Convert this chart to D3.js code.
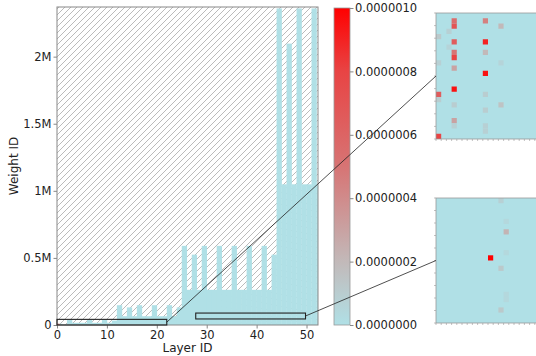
<!DOCTYPE html>
<html>
<head>
<meta charset="utf-8">
<script src="https://cdn.jsdelivr.net/npm/d3@7"></script>
<style>
  body { margin: 0; background: #fff; }
  text { font-family: "DejaVu Sans", sans-serif; fill: #222; }
</style>
</head>
<body>
<div id="chart"></div>
<script>
(function () {
"use strict";

// Number of weights per layer
var weightCounts = [
  9408, 4096, 36864, 16384, 16384, 16384, 36864, 16384, 16384, 36864,
  16384, 32768, 147456, 65536, 131072, 65536, 147456, 65536, 65536, 147456,
  65536, 65536, 147456, 65536, 131072, 589824, 262144, 524288, 262144, 589824,
  262144, 262144, 589824, 262144, 262144, 589824, 262144, 262144, 589824, 262144,
  262144, 589824, 262144, 524288, 2359296, 1048576, 2097152, 1048576, 2359296, 1048576,
  1048576, 2359296, 1048576
];

var xTicks = [0, 10, 20, 30, 40, 50];
var yTicks = [0, 500000, 1000000, 1500000, 2000000];
var cbarTicks = [0, 2e-7, 4e-7, 6e-7, 8e-7, 1e-6];

// hot spots in the main image: [layer, weight from, weight to, value]
var mainHot = [
  [0, 0, 9000, 8e-7]
];

// zoom boxes: [layer from, layer to, weight from, weight to]
var zoomBoxes = [
  [0, 22, 0, 42000],
  [27.8, 49.8, 45000, 89000]
];

// inset cells: [column, row, value]
var inset1Cells = [
  [0, 4, 1.2e-7], [0, 9, 0.8e-7], [0, 15, 6.5e-7], [0, 16, 1.0e-7], [0, 23, 8e-7],
  [2, 3, 0.8e-7], [2, 6, 0.6e-7],
  [3, 1, 5.5e-7], [3, 2, 7e-7], [3, 5, 6.5e-7], [3, 7, 5e-7], [3, 8, 8e-7],
  [3, 10, 3e-7], [3, 14, 9.5e-7], [3, 17, 1e-7], [3, 20, 3e-7], [3, 21, 0.8e-7],
  [9, 1, 4.5e-7], [9, 5, 9e-7], [9, 7, 2e-7], [9, 11, 9.5e-7], [9, 15, 1e-7],
  [9, 18, 1e-7], [9, 21, 0.8e-7], [9, 22, 0.8e-7],
  [12, 2, 2e-7], [12, 9, 0.6e-7], [12, 17, 1.5e-7]
];
var inset2Cells = [
  [10, 11, 10e-7], [13, 6, 2.2e-7], [12, 0, 0.8e-7], [12, 13, 1.2e-7],
  [12, 21, 1.2e-7], [13, 4, 0.4e-7], [13, 10, 0.4e-7], [13, 18, 0.4e-7], [13, 19, 0.4e-7]
];

var fullWidth = 536, fullHeight = 356;

var svg = d3.select("#chart").append("svg")
  .attr("width", fullWidth)
  .attr("height", fullHeight)
  .attr("viewBox", "0 0 " + fullWidth + " " + fullHeight);

var defs = svg.append("defs");

// Hatch for the empty part of the matrix
defs.append("pattern")
    .attr("id", "hatch")
    .attr("patternUnits", "userSpaceOnUse")
    .attr("width", 6)
    .attr("height", 6)
  .append("path")
    .attr("d", "M-1,1 l2,-2 M0,6 l6,-6 M5,7 l2,-2")
    .style("stroke", "#aaa")
    .style("stroke-width", 0.8);

var cmap = d3.scaleLinear()
  .domain([0, 0.2, 0.5, 0.8, 1])
  .range(["#b0e0e6", "#c2b9b9", "#d77474", "#e84444", "#ff0000"])
  .clamp(true);
var vMax = 1e-6;
function color(v) { return cmap(v / vMax); }

var grad = defs.append("linearGradient")
  .attr("id", "cbar-grad")
  .attr("x1", 0).attr("y1", 1).attr("x2", 0).attr("y2", 0);
grad.selectAll("stop")
  .data(cmap.domain())
  .enter().append("stop")
    .attr("offset", function(d) { return d; })
    .attr("stop-color", function(d) { return cmap(d); });

// Main axes
var plot = { left: 57, right: 318, top: 7, bottom: 325 };

var xScale = d3.scaleLinear()
  .domain([0, 52.3])
  .range([plot.left, plot.right]);

var yScale = d3.scaleLinear()
  .domain([0, 2370000])
  .range([plot.bottom, plot.top]);

defs.append("clipPath").attr("id", "main-clip")
  .append("rect")
    .attr("x", plot.left).attr("y", plot.top)
    .attr("width", plot.right - plot.left)
    .attr("height", plot.bottom - plot.top);

var mainGroup = svg.append("g").attr("clip-path", "url(#main-clip)");

mainGroup.append("rect")
  .attr("x", plot.left).attr("y", plot.top)
  .attr("width", plot.right - plot.left)
  .attr("height", plot.bottom - plot.top)
  .style("fill", "#fff");

mainGroup.append("rect")
  .attr("x", plot.left).attr("y", plot.top)
  .attr("width", plot.right - plot.left)
  .attr("height", plot.bottom - plot.top)
  .style("fill", "url(#hatch)");

// Layer columns
mainGroup.selectAll(".layer")
  .data(weightCounts)
  .enter().append("rect")
    .attr("class", "layer")
    .attr("x", function(d, i) { return xScale(i); })
    .attr("width", function(d, i) { return xScale(i + 1) - xScale(i) + 0.3; })
    .attr("y", function(d) { return yScale(d); })
    .attr("height", function(d) { return yScale(0) - yScale(d); })
    .style("fill", color(0));

mainGroup.selectAll(".hot")
  .data(mainHot)
  .enter().append("rect")
    .attr("class", "hot")
    .attr("x", function(d) { return xScale(d[0]); })
    .attr("width", function(d) { return xScale(d[0] + 0.5) - xScale(d[0]); })
    .attr("y", function(d) { return yScale(d[2]); })
    .attr("height", function(d) { return yScale(d[1]) - yScale(d[2]); })
    .style("fill", function(d) { return color(d[3]); });

// Frame
svg.append("rect")
  .attr("x", plot.left).attr("y", plot.top)
  .attr("width", plot.right - plot.left)
  .attr("height", plot.bottom - plot.top)
  .style("fill", "none")
  .style("stroke", "#888")
  .style("stroke-width", 1);

// Axes
function fmtWeight(v) { return v === 0 ? "0" : (v / 1e6) + "M"; }

var xAxis = svg.append("g")
  .attr("transform", "translate(0," + plot.bottom + ")")
  .call(d3.axisBottom(xScale).tickValues(xTicks).tickSize(3.5).tickPadding(2));
var yAxis = svg.append("g")
  .attr("transform", "translate(" + plot.left + ",0)")
  .call(d3.axisLeft(yScale).tickValues(yTicks).tickFormat(fmtWeight).tickSize(3.5).tickPadding(2));

[xAxis, yAxis].forEach(function(ax) {
  ax.select(".domain").remove();
  ax.selectAll("line").style("stroke", "#888");
  ax.selectAll("text")
    .style("font-family", "'DejaVu Sans', sans-serif")
    .style("font-size", "11.5px")
    .style("fill", "#222");
});

svg.append("text")
  .attr("x", (plot.left + plot.right) / 2)
  .attr("y", 352)
  .style("text-anchor", "middle")
  .style("font-size", "12px")
  .text("Layer ID");

svg.append("text")
  .attr("transform", "translate(18," + (plot.top + plot.bottom) / 2 + ") rotate(-90)")
  .style("text-anchor", "middle")
  .style("font-size", "12px")
  .text("Weight ID");

// Colorbar
var cbar = { left: 334, right: 350, top: 8, bottom: 325 };
var cScale = d3.scaleLinear()
  .domain([0, vMax])
  .range([cbar.bottom, cbar.top]);

svg.append("rect")
  .attr("x", cbar.left).attr("y", cbar.top)
  .attr("width", cbar.right - cbar.left)
  .attr("height", cbar.bottom - cbar.top)
  .style("fill", "url(#cbar-grad)")
  .style("stroke", "#999")
  .style("stroke-width", 0.8);

var cAxis = svg.append("g")
  .attr("transform", "translate(" + cbar.right + ",0)")
  .call(d3.axisRight(cScale).tickValues(cbarTicks)
    .tickFormat(function(d) { return d.toFixed(7); })
    .tickSize(3.5).tickPadding(1.5));
cAxis.select(".domain").remove();
cAxis.selectAll("line").style("stroke", "#888");
cAxis.selectAll("text")
  .style("font-family", "'DejaVu Sans', sans-serif")
  .style("font-size", "11.5px")
  .style("fill", "#222");

// Insets
function drawInset(cells, top, bottom, id) {
  var ix = d3.scaleLinear().domain([0, 20]).range([436, 540]);
  var iy = d3.scaleLinear().domain([0, 24]).range([top, bottom]);
  var g = svg.append("g").attr("id", id);

  g.append("rect")
    .attr("x", ix(0)).attr("y", iy(0))
    .attr("width", ix(20) - ix(0))
    .attr("height", iy(24) - iy(0))
    .style("fill", color(0));

  g.selectAll(".cell")
    .data(cells)
    .enter().append("rect")
      .attr("class", "cell")
      .attr("x", function(d) { return ix(d[0]); })
      .attr("y", function(d) { return iy(d[1]); })
      .attr("width", ix(1) - ix(0))
      .attr("height", iy(1) - iy(0))
      .style("fill", function(d) { return color(d[2]); });

  g.append("rect")
    .attr("x", ix(0)).attr("y", iy(0))
    .attr("width", ix(20) - ix(0))
    .attr("height", iy(24) - iy(0))
    .style("fill", "none")
    .style("stroke", "#999")
    .style("stroke-width", 0.8);

  // small unlabelled ticks
  var ty = d3.scaleLinear().domain([0, 10]).range([top, bottom]);
  g.selectAll(".ytick")
    .data(ty.ticks(10))
    .enter().append("line")
      .attr("x1", ix(0) - 2).attr("x2", ix(0))
      .attr("y1", function(d) { return ty(d); })
      .attr("y2", function(d) { return ty(d); })
      .style("stroke", "#999")
      .style("stroke-width", 0.6);
  g.selectAll(".xtick")
    .data(ix.ticks(20))
    .enter().append("line")
      .attr("x1", function(d) { return ix(d); })
      .attr("x2", function(d) { return ix(d); })
      .attr("y1", bottom).attr("y2", bottom + 2)
      .style("stroke", "#999")
      .style("stroke-width", 0.6);

  return { x: ix(0), y: (top + bottom) / 2 };
}

var insetAnchors = [
  drawInset(inset1Cells, 13, 139, "inset-1"),
  drawInset(inset2Cells, 198, 323, "inset-2")
];

// Zoom boxes and connectors
zoomBoxes.forEach(function(b, i) {
  var x0 = xScale(b[0]), x1 = xScale(b[1]),
      y0 = yScale(b[3]), y1 = yScale(b[2]);
  svg.append("rect")
    .attr("x", x0).attr("y", y0)
    .attr("width", x1 - x0)
    .attr("height", y1 - y0)
    .style("fill", "none")
    .style("stroke", "#222")
    .style("stroke-width", 1.1);
  svg.append("line")
    .attr("x1", x1).attr("y1", (y0 + y1) / 2)
    .attr("x2", insetAnchors[i].x).attr("y2", insetAnchors[i].y)
    .style("stroke", "#222")
    .style("stroke-width", 0.8);
});

})();
</script>
</body>
</html>
